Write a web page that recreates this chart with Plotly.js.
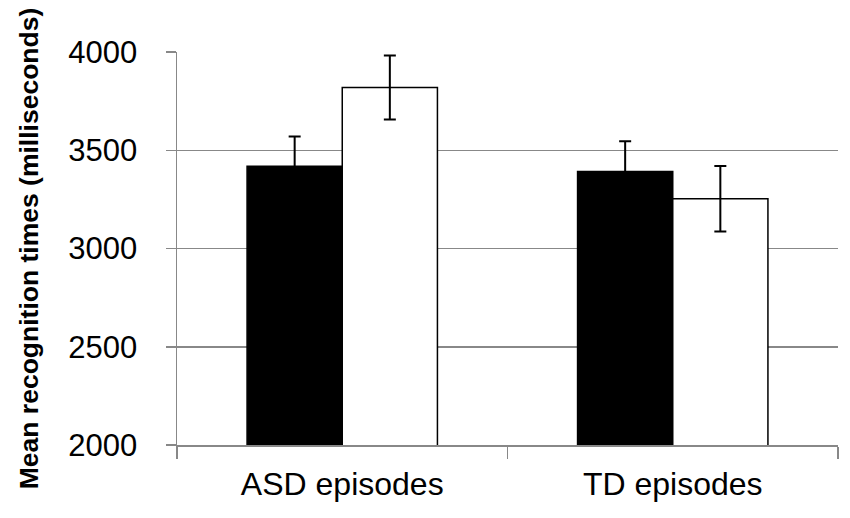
<!DOCTYPE html>
<html>
<head>
<meta charset="utf-8">
<script src="https://cdn.plot.ly/plotly-3.0.1.min.js"></script>
<style>html,body{margin:0;padding:0;background:#fff;}#chart{width:850px;height:518px;}</style>
</head>
<body>
<div id="chart"></div>
<script>
const categories = ["ASD episodes", "TD episodes"];
const seriesA = [3418, 3392];
const seriesAErr = [152, 154];
const seriesB = [3819, 3253];
const seriesBErr = [163, 167];
const yTicks = [2000, 2500, 3000, 3500, 4000];

const errStyle = {type: 'data', visible: true, color: '#000', thickness: 2, width: 6};

const traces = [
  {type: 'bar', x: categories, y: seriesA, name: 'A',
   marker: {color: '#000', line: {color: '#000', width: 1.5}},
   error_y: Object.assign({array: seriesAErr}, errStyle)},
  {type: 'bar', x: categories, y: seriesB, name: 'B',
   marker: {color: '#fff', line: {color: '#000', width: 1.5}},
   error_y: Object.assign({array: seriesBErr}, errStyle)}
];

const layout = {
  width: 850, height: 518,
  margin: {l: 177, r: 12, t: 52, b: 73},
  paper_bgcolor: '#fff', plot_bgcolor: '#fff',
  showlegend: false,
  barmode: 'group',
  bargap: 0.424, bargroupgap: 0,
  font: {family: 'Liberation Sans, Arial, sans-serif', color: '#000'},
  xaxis: {
    type: 'category',
    showline: true, linecolor: '#888', linewidth: 1.5,
    ticks: 'outside', tickson: 'boundaries', ticklen: 12, tickcolor: '#888', tickwidth: 1.5,
    tickfont: {size: 32, color: '#000'},
    showgrid: false, zeroline: false,
    ticklabelstandoff: 10
  },
  yaxis: {
    range: [2000, 4000],
    tickvals: yTicks, ticktext: yTicks.map(String),
    showline: true, linecolor: '#888', linewidth: 1.5,
    ticks: 'outside', ticklen: 10, tickcolor: '#888', tickwidth: 1.5,
    showgrid: true, gridcolor: '#888', gridwidth: 1.5,
    zeroline: false,
    tickfont: {size: 31, color: '#000'},
    ticklabelstandoff: 22,
    title: {text: '<b>Mean recognition times (milliseconds)</b>', font: {size: 26.5, family: 'Liberation Sans, Arial, sans-serif', color: '#000'}, standoff: 22}
  }
};

Plotly.newPlot('chart', traces, layout, {displayModeBar: false, staticPlot: true});
</script>
</body>
</html>
